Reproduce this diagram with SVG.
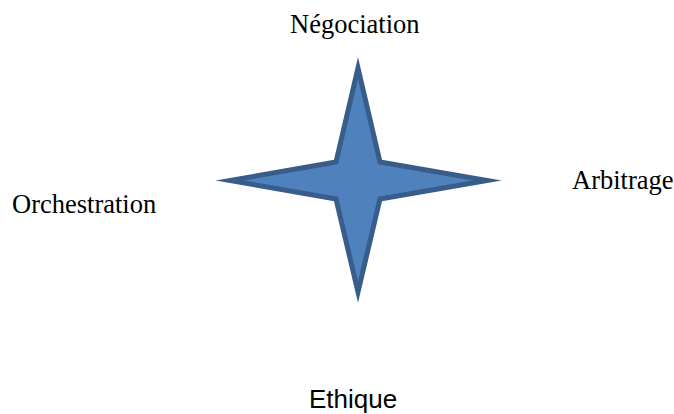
<svg xmlns="http://www.w3.org/2000/svg" width="674" height="414" viewBox="0 0 674 414">
<style>
.lbl{font-family:"Liberation Serif","Times New Roman",serif;font-size:26.5px;fill:#000}
.sans{font-family:"Liberation Sans",Arial,sans-serif;font-size:26px;fill:#000}
.star{fill:#4F81BD;stroke:#385D8A;stroke-width:5;stroke-linejoin:miter;stroke-miterlimit:20}
</style>
<rect width="674" height="414" fill="#fff"/>
<g id="star">
<path class="star" d="M358,68 L380,162 L487,180.5 L380,199 L358,292 L336,199 L230,180.5 L336,162 Z"/>
</g>
<g id="connectors"/>
<g id="negociation"><text class="lbl" x="290" y="33">Négociation</text></g>
<g id="orchestration"><text class="lbl" x="12" y="213">Orchestration</text></g>
<g id="arbitrage"><text class="lbl" x="572" y="189">Arbitrage</text></g>
<g id="ethique"><text class="sans" x="309" y="408">Ethique</text></g>
</svg>
